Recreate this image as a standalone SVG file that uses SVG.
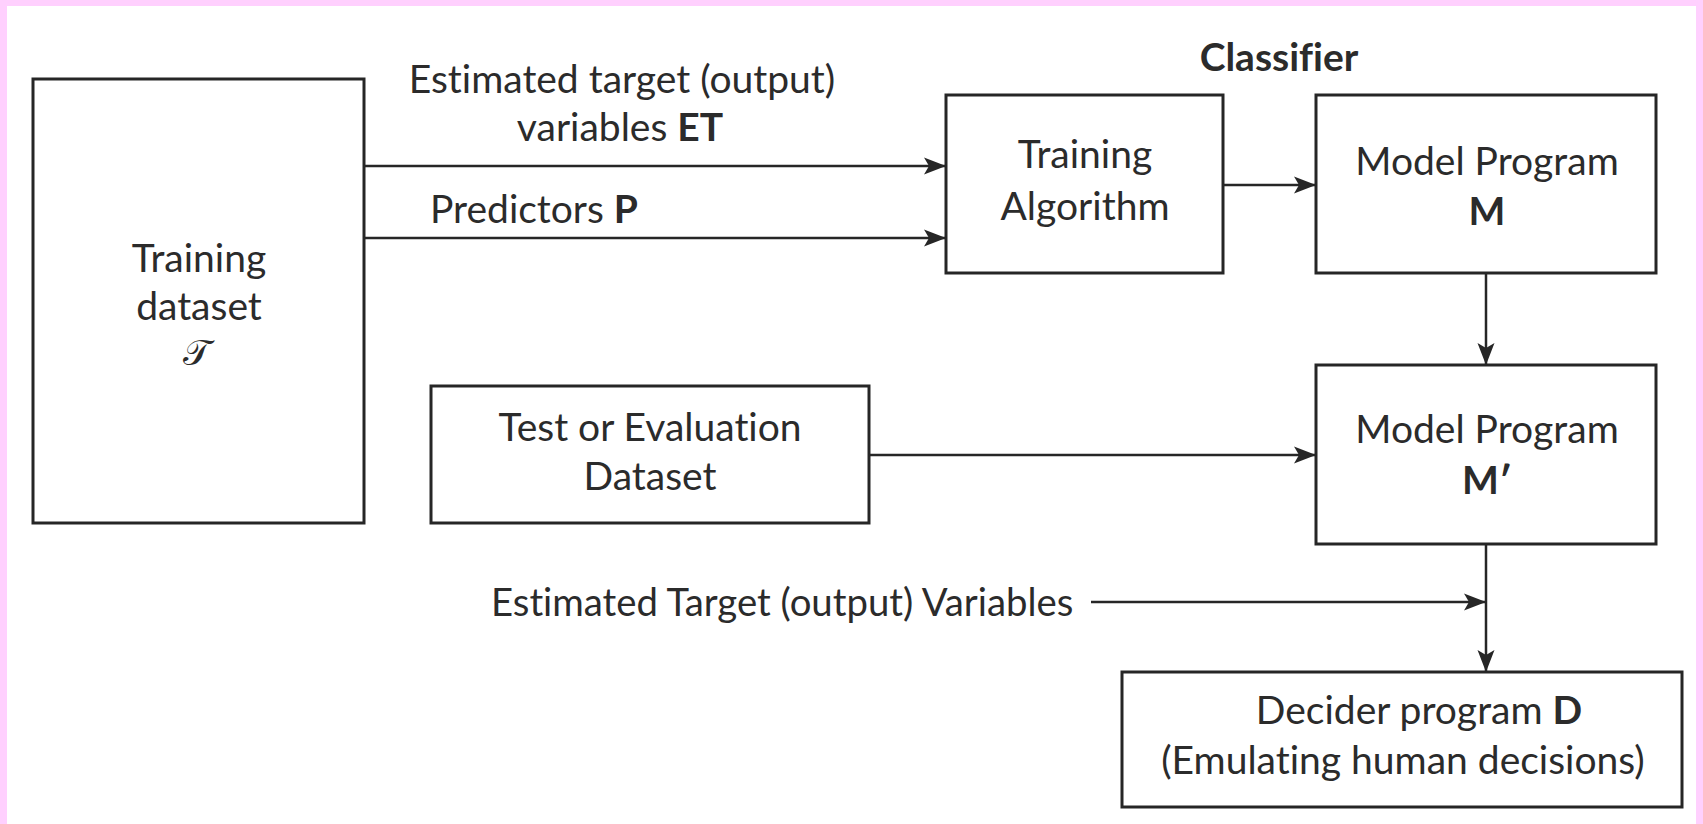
<svg xmlns="http://www.w3.org/2000/svg" width="1703" height="824" viewBox="0 0 1703 824">
<defs>
<style>
.box{fill:#fff;stroke:#262626;stroke-width:3}
.t{font-family:Lato,"Liberation Sans",sans-serif;font-size:39px;fill:#2b2b2b;text-anchor:middle;font-variant-ligatures:none}
.s{text-anchor:start}
.b{font-weight:bold}
.c{stroke:#262626;stroke-width:2.5;fill:none;marker-end:url(#ah)}
</style>
<marker id="ah" markerUnits="userSpaceOnUse" markerWidth="24" markerHeight="20" refX="22" refY="10" orient="auto">
<path d="M0,1.5 L22,10 L0,18.5 L5,10 Z" fill="#262626"/>
</marker>
</defs>
<rect x="0" y="0" width="1703" height="824" fill="#FFD0FE"/>
<rect x="7" y="6" width="1689" height="818" fill="#fff"/>

<g id="training-dataset">
<rect class="box" x="33" y="79" width="331" height="444"/>
<text class="t" x="199" y="272">Training</text>
<text class="t" x="199" y="320">dataset</text>
<text class="t" x="197" y="365" style="font-family:'DejaVu Serif',serif;font-size:36px">𝒯</text>
</g>

<g id="training-algorithm">
<rect class="box" x="946" y="95" width="277" height="178"/>
<text class="t" x="1085" y="168">Training</text>
<text class="t" x="1085" y="220">Algorithm</text>
</g>

<g id="classifier-label">
<text class="t b" x="1279" y="71">Classifier</text>
</g>

<g id="model-m">
<rect class="box" x="1316" y="95" width="340" height="178"/>
<text class="t" x="1487" y="175">Model Program</text>
<text class="t b" x="1487" y="225">M</text>
</g>

<g id="test-dataset">
<rect class="box" x="431" y="386" width="438" height="137"/>
<text class="t" x="650" y="441">Test or Evaluation</text>
<text class="t" x="650" y="490">Dataset</text>
</g>

<g id="model-m-prime">
<rect class="box" x="1316" y="365" width="340" height="179"/>
<text class="t" x="1487" y="443">Model Program</text>
<text class="t b" x="1487" y="494">M′</text>
</g>

<g id="decider">
<rect class="box" x="1122" y="672" width="560" height="135"/>
<text class="t" x="1419" y="724">Decider program <tspan class="b">D</tspan></text>
<text class="t" x="1403" y="774">(Emulating human decisions)</text>
</g>

<g id="labels">
<text class="t" x="622" y="93">Estimated target (output)</text>
<text class="t" x="620" y="141">variables <tspan class="b">ET</tspan></text>
<text class="t s" x="430" y="223">Predictors <tspan class="b">P</tspan></text>
<text class="t s" x="491" y="616" style="font-size:38.3px">Estimated Target (output) Variables</text>
</g>

<g id="connectors">
<line class="c" x1="364" y1="166" x2="946" y2="166"/>
<line class="c" x1="364" y1="238" x2="946" y2="238"/>
<line class="c" x1="1223" y1="185" x2="1316" y2="185"/>
<line class="c" x1="1486" y1="273" x2="1486" y2="365"/>
<line class="c" x1="869" y1="455" x2="1316" y2="455"/>
<line class="c" x1="1486" y1="544" x2="1486" y2="672"/>
<line class="c" x1="1091" y1="602" x2="1486" y2="602"/>
</g>
</svg>
